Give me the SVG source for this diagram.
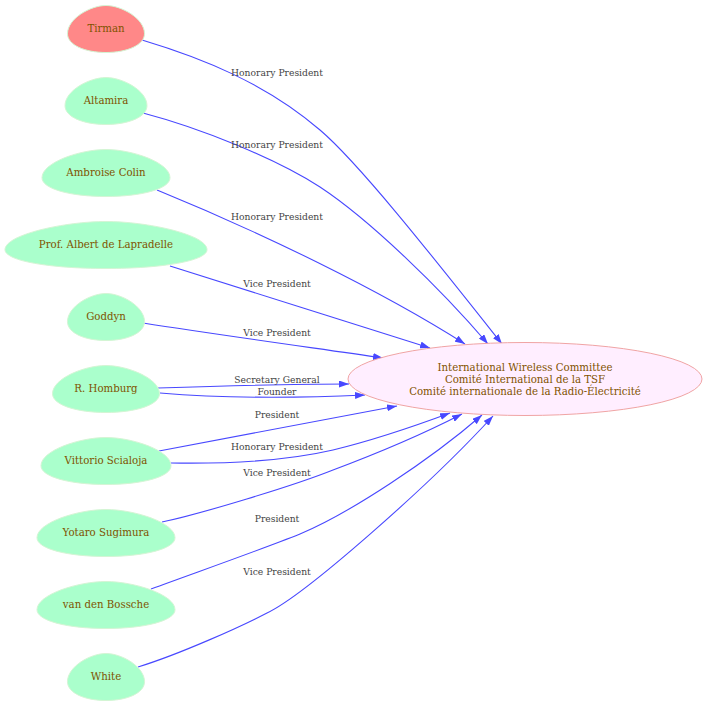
<svg xmlns="http://www.w3.org/2000/svg" width="707" height="707" viewBox="0 0 707 707">
<style>
.egg{fill:#aaffcc;stroke:#d4f5d4;stroke-width:1}
.egg.red{fill:#ff8888}
.nl{font-family:"DejaVu Serif",serif;font-size:10.2px;fill:#7f5300;text-anchor:middle}
.el{font-family:"DejaVu Serif",serif;font-size:9.2px;fill:#444444;text-anchor:middle}
.e{fill:none;stroke:#4848ff;stroke-width:1.1;marker-end:url(#arr)}
</style>
<defs>
<marker id="arr" viewBox="0 0 10 7" refX="10" refY="3.5" markerWidth="10" markerHeight="7" markerUnits="userSpaceOnUse" orient="auto">
<path d="M0,0 L10,3.5 L0,7 Z" fill="#4848ff"/>
</marker>
</defs>
<rect width="707" height="707" fill="#ffffff"/>
<g id="edges">
<path class="e" d="M142,40 C202,58 265,83 320,130 C360,164 437,262 502,344"/>
<path class="e" d="M143,113 C200,128 275,158 320,187 C370,220 440,288 488,344"/>
<path class="e" d="M157,190 C260,232 380,290 465,344"/>
<path class="e" d="M170,266 C250,292 350,322 430,348"/>
<path class="e" d="M143,323 C220,335 300,346 383,358"/>
<path class="e" d="M158,388 C220,386 290,384 349,384"/>
<path class="e" d="M160,393 C220,398 300,398 365,395"/>
<path class="e" d="M159,451 C240,435 320,420 397,406"/>
<path class="e" d="M171,463 C230,464 290,460 333,450 C370,441 415,426 450,413"/>
<path class="e" d="M162,522 C200,514 293,486 333,470 C373,455 427,432 462,414"/>
<path class="e" d="M151,589 C200,571 260,550 300,534 C350,513 430,460 482,415"/>
<path class="e" d="M138,667 C180,654 240,627 267,613 C305,595 430,485 493,416"/>
<text class="el" x="277" y="75.5">Honorary President</text>
<text class="el" x="277" y="147.5">Honorary President</text>
<text class="el" x="277" y="219.5">Honorary President</text>
<text class="el" x="277" y="286.5">Vice President</text>
<text class="el" x="277" y="335.5">Vice President</text>
<text class="el" x="277" y="382.5">Secretary General</text>
<text class="el" x="277" y="394.5">Founder</text>
<text class="el" x="277" y="418">President</text>
<text class="el" x="277" y="449.5">Honorary President</text>
<text class="el" x="277" y="475.5">Vice President</text>
<text class="el" x="277" y="521.5">President</text>
<text class="el" x="277" y="574.5">Vice President</text>
</g>
<g id="iwc">
<ellipse cx="525" cy="379" rx="177" ry="36.5" fill="#ffeeff" stroke="#f0a4a4" stroke-width="1"/>
<text class="nl" x="525" y="370.5">International Wireless Committee</text>
<text class="nl" x="525" y="382.5">Comité International de la TSF</text>
<text class="nl" x="525" y="394.5">Comité internationale de la Radio-Électricité</text>
</g>
<g id="tirman">
<path class="egg red" vector-effect="non-scaling-stroke" transform="translate(106 29) scale(38.5 23.5)" d="M0,-1 C0.4,-1 1,-0.45 1,0.2 C1,0.68 0.55,1 0,1 C-0.55,1 -1,0.68 -1,0.2 C-1,-0.45 -0.4,-1 0,-1 Z"/>
<text class="nl" x="106" y="32">Tirman</text>
</g>
<g id="altamira">
<path class="egg" vector-effect="non-scaling-stroke" transform="translate(106 101) scale(41 23.5)" d="M0,-1 C0.4,-1 1,-0.45 1,0.2 C1,0.68 0.55,1 0,1 C-0.55,1 -1,0.68 -1,0.2 C-1,-0.45 -0.4,-1 0,-1 Z"/>
<text class="nl" x="106" y="104">Altamira</text>
</g>
<g id="colin">
<path class="egg" vector-effect="non-scaling-stroke" transform="translate(106 173) scale(64 23.5)" d="M0,-1 C0.4,-1 1,-0.45 1,0.2 C1,0.68 0.55,1 0,1 C-0.55,1 -1,0.68 -1,0.2 C-1,-0.45 -0.4,-1 0,-1 Z"/>
<text class="nl" x="106" y="176">Ambroise Colin</text>
</g>
<g id="lapradelle">
<path class="egg" vector-effect="non-scaling-stroke" transform="translate(106 245) scale(101 23.5)" d="M0,-1 C0.4,-1 1,-0.45 1,0.2 C1,0.68 0.55,1 0,1 C-0.55,1 -1,0.68 -1,0.2 C-1,-0.45 -0.4,-1 0,-1 Z"/>
<text class="nl" x="106" y="248">Prof. Albert de Lapradelle</text>
</g>
<g id="goddyn">
<path class="egg" vector-effect="non-scaling-stroke" transform="translate(106 317) scale(38.5 23.5)" d="M0,-1 C0.4,-1 1,-0.45 1,0.2 C1,0.68 0.55,1 0,1 C-0.55,1 -1,0.68 -1,0.2 C-1,-0.45 -0.4,-1 0,-1 Z"/>
<text class="nl" x="106" y="320">Goddyn</text>
</g>
<g id="homburg">
<path class="egg" vector-effect="non-scaling-stroke" transform="translate(106 389) scale(53.5 23.5)" d="M0,-1 C0.4,-1 1,-0.45 1,0.2 C1,0.68 0.55,1 0,1 C-0.55,1 -1,0.68 -1,0.2 C-1,-0.45 -0.4,-1 0,-1 Z"/>
<text class="nl" x="106" y="392">R. Homburg</text>
</g>
<g id="scialoja">
<path class="egg" vector-effect="non-scaling-stroke" transform="translate(106 461) scale(65 23.5)" d="M0,-1 C0.4,-1 1,-0.45 1,0.2 C1,0.68 0.55,1 0,1 C-0.55,1 -1,0.68 -1,0.2 C-1,-0.45 -0.4,-1 0,-1 Z"/>
<text class="nl" x="106" y="464">Vittorio Scialoja</text>
</g>
<g id="sugimura">
<path class="egg" vector-effect="non-scaling-stroke" transform="translate(106 533) scale(69 23.5)" d="M0,-1 C0.4,-1 1,-0.45 1,0.2 C1,0.68 0.55,1 0,1 C-0.55,1 -1,0.68 -1,0.2 C-1,-0.45 -0.4,-1 0,-1 Z"/>
<text class="nl" x="106" y="536">Yotaro Sugimura</text>
</g>
<g id="bossche">
<path class="egg" vector-effect="non-scaling-stroke" transform="translate(106 605) scale(69 23.5)" d="M0,-1 C0.4,-1 1,-0.45 1,0.2 C1,0.68 0.55,1 0,1 C-0.55,1 -1,0.68 -1,0.2 C-1,-0.45 -0.4,-1 0,-1 Z"/>
<text class="nl" x="106" y="608">van den Bossche</text>
</g>
<g id="white">
<path class="egg" vector-effect="non-scaling-stroke" transform="translate(106 677) scale(38.5 23.5)" d="M0,-1 C0.4,-1 1,-0.45 1,0.2 C1,0.68 0.55,1 0,1 C-0.55,1 -1,0.68 -1,0.2 C-1,-0.45 -0.4,-1 0,-1 Z"/>
<text class="nl" x="106" y="680">White</text>
</g>
</svg>
